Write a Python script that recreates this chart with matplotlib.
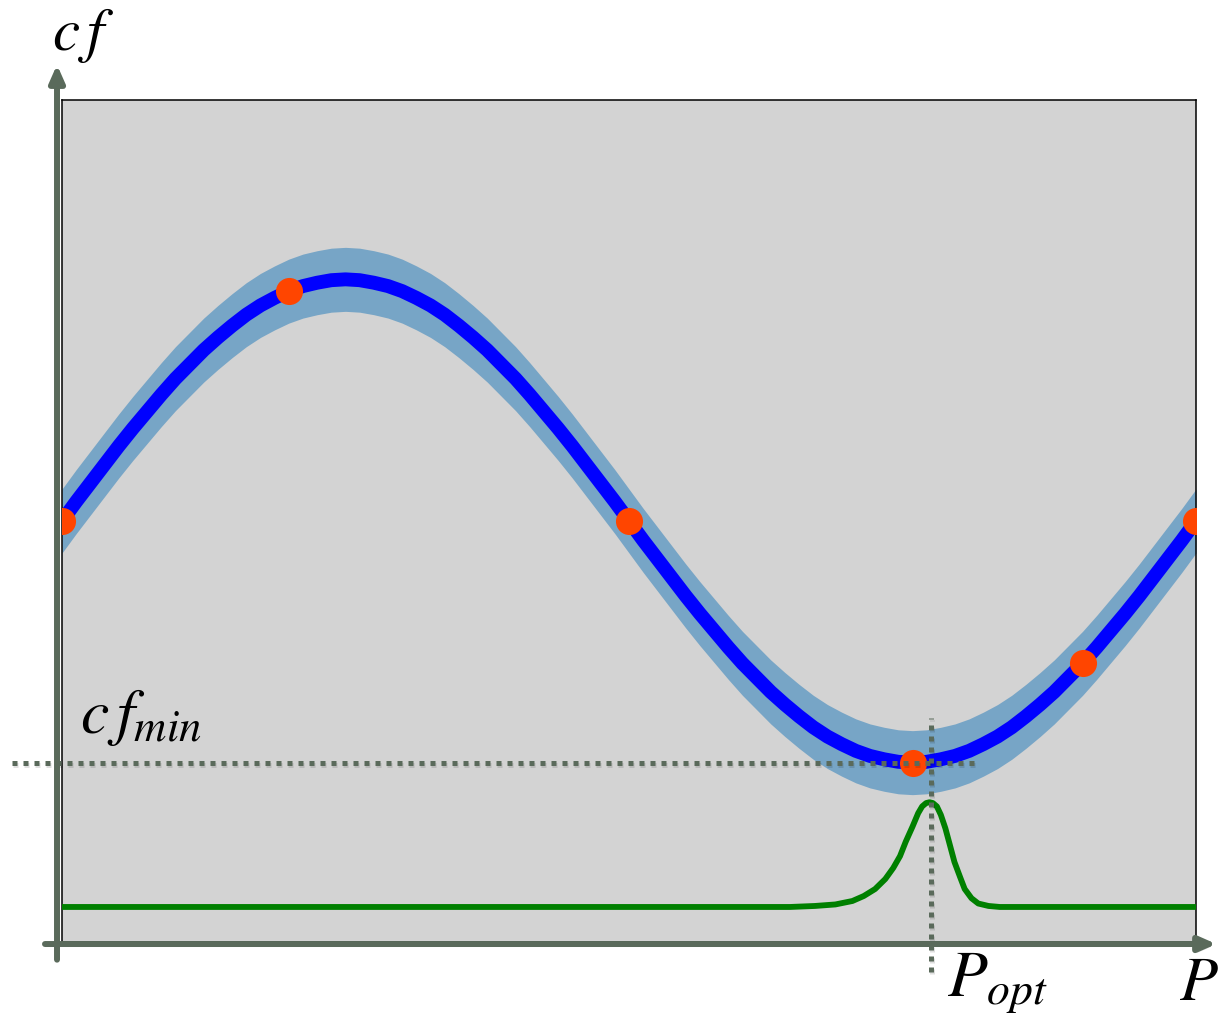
import numpy as np
import matplotlib
matplotlib.use('Agg')
from matplotlib import pyplot as plt
from matplotlib import patheffects as pe

plt.rcParams['mathtext.fontset'] = 'stix'

# Surrogate model: mean of the cost function along the parameter P
p_grid = np.linspace(0, 10, 81)
cf_mean = [5.00, 5.23, 5.45, 5.67, 5.89, 6.10, 6.30, 6.50, 6.69, 6.86,
           7.03, 7.18, 7.32, 7.45, 7.56, 7.65, 7.73, 7.79, 7.83, 7.86,
           7.87, 7.86, 7.83, 7.79, 7.73, 7.65, 7.56, 7.45, 7.32, 7.18,
           7.03, 6.86, 6.69, 6.50, 6.30, 6.10, 5.89, 5.67, 5.45, 5.23,
           5.00, 4.77, 4.55, 4.33, 4.11, 3.90, 3.70, 3.50, 3.31, 3.14,
           2.97, 2.82, 2.68, 2.55, 2.44, 2.35, 2.27, 2.21, 2.17, 2.14,
           2.13, 2.14, 2.17, 2.21, 2.27, 2.35, 2.44, 2.55, 2.68, 2.82,
           2.97, 3.14, 3.31, 3.50, 3.70, 3.90, 4.11, 4.33, 4.55, 4.77,
           5.00]
cf_band = 0.38

# Evaluated samples
sample_p = [0.0, 2.0, 5.0, 7.5, 9.0, 10.0]
sample_cf = [5.00, 7.73, 5.00, 2.13, 3.31, 5.00]

# Acquisition function
acq_p = [0.0, 6.42, 6.64, 6.82, 6.97, 7.07, 7.17, 7.26, 7.33, 7.39,
         7.44, 7.50, 7.55, 7.585, 7.62, 7.65, 7.68, 7.715, 7.75, 7.79,
         7.83, 7.87, 7.92, 7.96, 8.02, 8.08, 8.17, 8.27, 10.0]
acq_val = [0.416, 0.416, 0.428, 0.446, 0.487, 0.546, 0.629, 0.748, 0.879, 1.02,
           1.19, 1.37, 1.53, 1.61, 1.65, 1.66, 1.65, 1.61, 1.51, 1.35,
           1.15, 0.95, 0.77, 0.63, 0.52, 0.457, 0.428, 0.416, 0.416]

cf_min = 2.13
p_opt = 7.66

axis_col = '#5a6a5b'
shadow = [pe.SimpleLineShadow(offset=(1, -1.5), shadow_color='k', alpha=0.12), pe.Normal()]

fig = plt.figure(figsize=(12.2, 10.15), dpi=100)
ax = fig.add_axes([62 / 1220, 73 / 1015, 1134 / 1220, 842 / 1015])
ax.set_facecolor('#d3d3d3')
ax.set_xlim(0, 10)
ax.set_ylim(0, 10)
ax.set_xticks([])
ax.set_yticks([])
for sp in ax.spines.values():
    sp.set_color('black')
    sp.set_linewidth(1.1)

upper = np.array(cf_mean) + cf_band
lower = np.array(cf_mean) - cf_band
ax.fill_between(p_grid, lower, upper, color='#77a5c6', lw=0, zorder=2)
ax.plot(p_grid, cf_mean, color='#0000ff', lw=10, solid_capstyle='butt',
        solid_joinstyle='round', zorder=3)
ax.plot(sample_p, sample_cf, 'o', color='#ff4500', ms=19.5, mec='none', zorder=4)
ax.plot(acq_p, acq_val, color='#008000', lw=4.2, solid_joinstyle='round', zorder=3)

# Guides for the optimum
dots = (0, (1.0, 1.2))
ax.plot([-0.44, 8.05], [cf_min, cf_min], color=axis_col, lw=3.6, ls=dots,
        dash_capstyle='butt', clip_on=False, zorder=6, path_effects=shadow)
ax.plot([p_opt, p_opt], [-0.36, 2.66], color=axis_col, lw=3.6, ls=dots,
        dash_capstyle='butt', clip_on=False, zorder=6, path_effects=shadow)

# Axis arrows
arrow_kw = dict(arrowstyle='-|>,head_length=0.5,head_width=0.22', color=axis_col,
                lw=4.3, shrinkA=0, shrinkB=0, mutation_scale=20,
                path_effects=[pe.SimplePatchShadow(offset=(1.5, -2), alpha=0.15), pe.Normal()])
ax.annotate('', xy=(-0.044, 10.42), xytext=(-0.044, -0.21), arrowprops=arrow_kw,
            annotation_clip=False, zorder=7)
ax.annotate('', xy=(10.18, -0.024), xytext=(-0.15, -0.024), arrowprops=arrow_kw,
            annotation_clip=False, zorder=7)

ax.text(-0.09, 10.59, r'$c\,f$', fontsize=44, va='baseline', ha='left', clip_on=False)
ax.text(0.16, 2.48, r'$c\,f_{min}$', fontsize=46, va='baseline', ha='left', zorder=8)
ax.text(7.80, -0.65, r'$P_{opt}$', fontsize=47, va='baseline', ha='left', clip_on=False)
ax.text(9.85, -0.69, r'$P$', fontsize=45, va='baseline', ha='left', clip_on=False)

fig.savefig('out.png', dpi=100)
